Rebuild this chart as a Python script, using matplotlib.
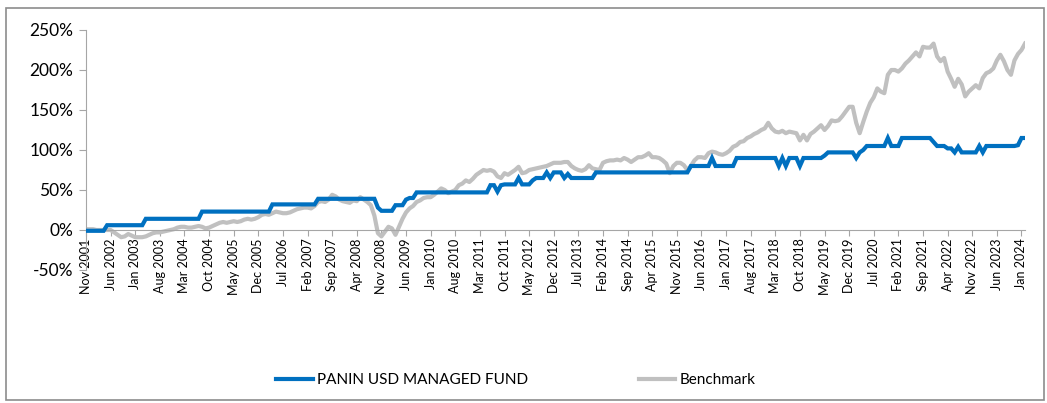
import matplotlib
matplotlib.use("Agg")
import matplotlib.pyplot as plt
from matplotlib.patches import Rectangle
import pandas as pd

# Monthly dates Nov 2001 .. Feb 2024
dates = pd.date_range("2001-11-01", "2024-02-01", freq="MS")

fund = [
    -1, -1, -1, -1, -1, -1, 6, 6, 6, 6, 6, 6, 6, 6, 6, 6, 6, 14, 14, 14,
    14, 14, 14, 14, 14, 14, 14, 14, 14, 14, 14, 14, 14, 23, 23, 23, 23, 23, 23, 23,
    23, 23, 23, 23, 23, 23, 23, 23, 23, 23, 23, 23, 23, 32, 32, 32, 32, 32, 32, 32,
    32, 32, 32, 32, 32, 32, 39, 39, 39, 39, 39, 39, 39, 39, 39, 39, 39, 39, 39, 39,
    39, 39, 39, 28, 24, 24, 24, 24, 31, 31, 31, 38, 40, 40, 47, 47, 47, 47, 47, 47,
    47, 47, 47, 47, 47, 47, 47, 47, 47, 47, 47, 47, 47, 47, 47, 56, 56, 48, 56, 57,
    57, 57, 57, 65, 57, 57, 57, 62, 65, 65, 65, 72, 65, 72, 72, 72, 65, 70, 65, 65,
    65, 65, 65, 65, 65, 72, 72, 72, 72, 72, 72, 72, 72, 72, 72, 72, 72, 72, 72, 72,
    72, 72, 72, 72, 72, 72, 72, 72, 72, 72, 72, 72, 80, 80, 80, 80, 80, 80, 90, 80,
    80, 80, 80, 80, 80, 90, 90, 90, 90, 90, 90, 90, 90, 90, 90, 90, 90, 80, 90, 80,
    90, 90, 90, 80, 90, 90, 90, 90, 90, 90, 93, 97, 97, 97, 97, 97, 97, 97, 97, 90,
    97, 100, 105, 105, 105, 105, 105, 105, 115, 105, 105, 105, 115, 115, 115, 115, 115, 115, 115, 115,
    115, 110, 105, 105, 105, 102, 102, 97, 104, 97, 97, 97, 97, 97, 105, 97, 105, 105, 105, 105,
    105, 105, 105, 105, 105, 106, 115, 115,
]

benchmark = [
    1, 1, 1, 0, 0, 0, 0, 0, -3, -6, -9, -8, -5, -7, -9, -9, -9, -8, -6, -4,
    -3, -3, -2, -1, 0, 1, 3, 4, 4, 3, 3, 4, 5, 4, 2, 3, 5, 7, 9, 10,
    9, 10, 11, 10, 11, 13, 14, 13, 14, 16, 19, 20, 19, 21, 23, 22, 21, 21, 22, 24,
    26, 27, 28, 28, 27, 30, 35, 36, 35, 38, 44, 42, 38, 36, 35, 34, 37, 36, 41, 38,
    35, 31, 18, -4, -8, -2, 4, 2, -6, 4, 14, 22, 27, 30, 35, 37, 40, 41, 41, 44,
    48, 52, 50, 46, 48, 50, 56, 58, 62, 60, 64, 69, 72, 75, 74, 75, 73, 67, 65, 71,
    69, 72, 75, 79, 71, 72, 75, 76, 77, 78, 79, 80, 82, 84, 84, 84, 85, 85, 80, 77,
    75, 74, 76, 81, 77, 76, 75, 84, 86, 87, 87, 88, 87, 90, 88, 85, 88, 91, 91, 93,
    96, 91, 91, 90, 87, 83, 71, 80, 84, 84, 81, 75, 80, 87, 91, 91, 90, 96, 98, 97,
    95, 94, 96, 99, 104, 106, 110, 111, 115, 117, 120, 122, 125, 127, 134, 127, 123, 122, 124, 121,
    123, 122, 121, 112, 119, 112, 120, 123, 127, 131, 125, 130, 137, 136, 137, 142, 148, 154, 154, 134,
    121, 135, 148, 159, 166, 177, 173, 171, 194, 200, 200, 198, 202, 208, 212, 217, 222, 217, 229, 228,
    228, 233, 217, 211, 215, 198, 189, 179, 189, 182, 167, 173, 177, 181, 177, 190, 196, 198, 202, 212,
    219, 211, 200, 194, 212, 220, 225, 233,
]

series_names = ["PANIN USD MANAGED FUND", "Benchmark"]
series_colors = ["#0070C0", "#C0C0C0"]
y_ticks = [-50, 0, 50, 100, 150, 200, 250]

plt.rcParams["font.family"] = ["Lato", "DejaVu Sans"]

W, H = 1047, 403
fig = plt.figure(figsize=(W / 100, H / 100), dpi=100)
fig.patches.append(Rectangle((6 / W, 3 / H), 1 - 9 / W, 1 - 11 / H, transform=fig.transFigure,
                             fill=False, edgecolor="#8c8c8c", linewidth=1.2))

ax = fig.add_axes([86 / W, 1 - 270 / H, (1025 - 86) / W, 240 / H])

for s in ["top", "right"]:
    ax.spines[s].set_visible(False)
ax.spines["bottom"].set_position(("data", 0))
ax.spines["bottom"].set_color("#a6a6a6")
ax.spines["left"].set_color("#a6a6a6")

x = list(range(len(dates)))
ax.plot(x, benchmark, color=series_colors[1], lw=3.0, label=series_names[1], zorder=2,
        solid_joinstyle="round")
ax.plot(x, fund, color=series_colors[0], lw=3.0, label=series_names[0], zorder=3,
        solid_joinstyle="miter")

ax.set_xlim(0, len(dates) - 1)
ax.set_ylim(-50, 250)
ax.set_yticks(y_ticks)
ax.set_yticklabels([f"{v}%" for v in y_ticks], fontsize=12.5)

tick_idx = list(range(0, len(dates), 7))
ax.set_xticks(tick_idx)
ax.set_xticklabels([dates[i].strftime("%b %Y") for i in tick_idx], rotation=90, fontsize=9)

ax.tick_params(axis="x", direction="out", length=4, color="#a6a6a6", pad=2)
ax.tick_params(axis="y", direction="out", length=5, color="#a6a6a6", pad=4)

handles, labels = ax.get_legend_handles_labels()
order = [1, 0]
fig.legend([handles[i] for i in order], [labels[i] for i in order], loc="center",
           bbox_to_anchor=(516 / W, 1 - 380 / H), ncol=2, frameon=False, fontsize=11,
           handlelength=2.4, handletextpad=0.3, columnspacing=7.2)

fig.savefig("out.png", dpi=100)
